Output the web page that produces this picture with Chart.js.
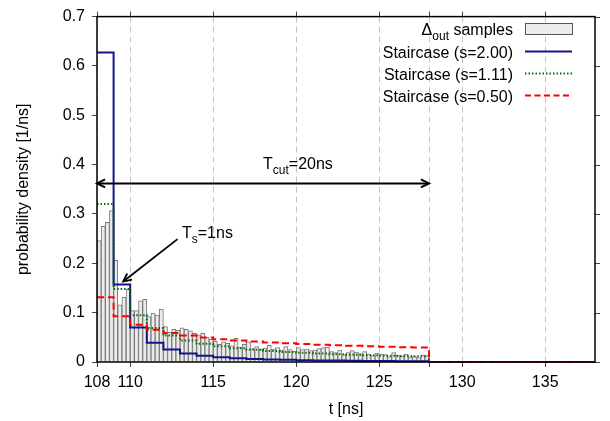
<!DOCTYPE html>
<html>
<head>
<meta charset="utf-8">
<script src="https://cdn.jsdelivr.net/npm/chart.js@4.4.0/dist/chart.umd.min.js"></script>
<style>
  html, body { margin: 0; padding: 0; background: #fff; }
</style>
</head>
<body>
<canvas id="chart" width="610" height="421"></canvas>
<script>
// axis ticks
const xTicks = [108, 110, 115, 120, 125, 128, 130, 135];
const xTickLabels = ['108', '110', '115', '120', '125', '', '130', '135'];
const yTicks = [0, 0.1, 0.2, 0.3, 0.4, 0.5, 0.6, 0.7];
const yTickLabels = ['0', '0.1', '0.2', '0.3', '0.4', '0.5', '0.6', '0.7'];

// histogram of Δout samples, 0.25 ns bins starting at 108 ns
const binStart = 108;
const binWidth = 0.25;
const samples = [
  0.246, 0.275, 0.283, 0.307,
  0.206, 0.116, 0.131, 0.148,
  0.104, 0.104, 0.124, 0.127,
  0.092, 0.099, 0.095, 0.107,
  0.072, 0.060, 0.066, 0.064,
  0.069, 0.066, 0.063, 0.058,
  0.055, 0.058, 0.050, 0.046,
  0.042, 0.036, 0.041, 0.038,
  0.033, 0.048, 0.030, 0.036,
  0.041, 0.027, 0.031, 0.026,
  0.028, 0.034, 0.026, 0.029,
  0.024, 0.031, 0.025, 0.022,
  0.029, 0.025, 0.026, 0.023,
  0.024, 0.027, 0.029, 0.030,
  0.021, 0.019, 0.024, 0.015,
  0.019, 0.023, 0.020, 0.017,
  0.021, 0.016, 0.013, 0.018,
  0.016, 0.015, 0.011, 0.019,
  0.014, 0.012, 0.016, 0.010,
  0.011, 0.009, 0.014, 0.013
];

// staircase densities, one value per 1 ns step, then 0 after T_cut
const stepTimes = [108, 109, 110, 111, 112, 113, 114, 115, 116, 117, 118, 119, 120, 121, 122, 123, 124, 125, 126, 127, 128, 138];
const stair200 = [0.627, 0.157, 0.0697, 0.0392, 0.0251, 0.0174, 0.0128, 0.0098, 0.0077, 0.0063, 0.0052, 0.0044, 0.0037, 0.0032, 0.0028, 0.0024, 0.0022, 0.0019, 0.0017, 0.0016, 0, 0];
const stair111 = [0.320, 0.148, 0.0945, 0.0687, 0.0536, 0.0438, 0.0369, 0.0318, 0.0279, 0.0248, 0.0223, 0.0203, 0.0186, 0.0171, 0.0158, 0.0148, 0.0138, 0.0129, 0.0122, 0.0115, 0, 0];
const stair050 = [0.131, 0.0926, 0.0756, 0.0655, 0.0586, 0.0535, 0.0495, 0.0463, 0.0437, 0.0414, 0.0395, 0.0378, 0.0363, 0.0350, 0.0338, 0.0328, 0.0318, 0.0309, 0.0301, 0.0293, 0, 0];

const FONT = "'Liberation Sans', Arial, Helvetica, sans-serif";
Chart.defaults.font.family = FONT;
Chart.defaults.font.size = 16;
Chart.defaults.color = '#000';

const BLUE = '#14148a';
const GREEN = '#0b6b0b';
const RED = '#ff0000';

function toPts(xs, ys) {
  return xs.map((x, i) => ({ x: x, y: ys[i] }));
}

// text with a subscript part: [main, sub, rest]
function drawSubText(ctx, parts, x, y, align) {
  const big = '16px ' + FONT;
  const small = '12px ' + FONT;
  ctx.font = big;
  const w0 = ctx.measureText(parts[0]).width;
  const w2 = ctx.measureText(parts[2]).width;
  ctx.font = small;
  const w1 = ctx.measureText(parts[1]).width;
  let sx = align === 'right' ? x - (w0 + w1 + w2) : x;
  ctx.textAlign = 'left';
  ctx.textBaseline = 'alphabetic';
  ctx.font = big;
  ctx.fillText(parts[0], sx, y);
  ctx.font = small;
  ctx.fillText(parts[1], sx + w0, y + 5);
  ctx.font = big;
  ctx.fillText(parts[2], sx + w0 + w1, y);
}

function arrowHead(ctx, x1, y1, x2, y2) {
  const a = Math.atan2(y2 - y1, x2 - x1);
  const len = 9, spread = 0.45;
  ctx.beginPath();
  ctx.moveTo(x2 - len * Math.cos(a - spread), y2 - len * Math.sin(a - spread));
  ctx.lineTo(x2, y2);
  ctx.lineTo(x2 - len * Math.cos(a + spread), y2 - len * Math.sin(a + spread));
  ctx.stroke();
}

const framePlugin = {
  id: 'frame',
  afterDatasetsDraw(chart) {
    const { ctx, chartArea: a, scales } = chart;
    ctx.save();
    // mirrored ticks on top and right
    ctx.strokeStyle = '#444';
    ctx.lineWidth = 1;
    ctx.beginPath();
    xTicks.forEach(v => {
      const px = Math.round(scales.x.getPixelForValue(v)) + 0.5;
      ctx.moveTo(px, a.top);
      ctx.lineTo(px, a.top - 5);
    });
    yTicks.forEach(v => {
      const py = Math.round(scales.y.getPixelForValue(v)) + 0.5;
      ctx.moveTo(a.right, py);
      ctx.lineTo(a.right + 5, py);
    });
    ctx.stroke();
    ctx.strokeStyle = '#000';
    ctx.lineWidth = 1.5;
    ctx.strokeRect(a.left, a.top, a.right - a.left, a.bottom - a.top);
    ctx.restore();
  }
};

const annotationPlugin = {
  id: 'notes',
  afterDraw(chart) {
    const { ctx, scales } = chart;
    const X = v => scales.x.getPixelForValue(v);
    const Y = v => scales.y.getPixelForValue(v);
    ctx.save();
    ctx.fillStyle = '#000';
    ctx.strokeStyle = '#000';
    ctx.lineWidth = 2;
    // T_cut double arrow
    const ya = Y(0.362);
    ctx.beginPath();
    ctx.moveTo(X(108), ya);
    ctx.lineTo(X(128), ya);
    ctx.stroke();
    arrowHead(ctx, X(128), ya, X(108), ya);
    arrowHead(ctx, X(108), ya, X(128), ya);
    drawSubText(ctx, ['T', 'cut', '=20ns'], X(118), Y(0.391), 'left');
    // T_s arrow
    ctx.lineWidth = 1.8;
    ctx.beginPath();
    ctx.moveTo(X(112.85), Y(0.249));
    ctx.lineTo(X(109.58), Y(0.163));
    ctx.stroke();
    arrowHead(ctx, X(112.85), Y(0.249), X(109.58), Y(0.163));
    drawSubText(ctx, ['T', 's', '=1ns'], X(113.12), Y(0.251), 'left');
    ctx.restore();
  }
};

const legendPlugin = {
  id: 'keybox',
  afterDraw(chart) {
    const { ctx } = chart;
    const tx = 513, s0 = 525, s1 = 572;
    const rows = [29, 51.5, 73.5, 95.5];
    ctx.save();
    drawSubText(ctx, ['Δ', 'out', ' samples'], tx, rows[0] + 6, 'right');
    ctx.fillStyle = '#ececec';
    ctx.fillRect(s0, rows[0] - 5.5, s1 - s0, 11);
    ctx.strokeStyle = '#555';
    ctx.lineWidth = 1;
    ctx.strokeRect(s0 + 0.5, rows[0] - 5.5, s1 - s0, 11);
    const lines = [
      ['Staircase (s=2.00)', BLUE, []],
      ['Staircase (s=1.11)', GREEN, [1.5, 2]],
      ['Staircase (s=0.50)', RED, [6, 3.5]]
    ];
    ctx.font = '16px ' + FONT;
    ctx.textAlign = 'right';
    ctx.textBaseline = 'alphabetic';
    lines.forEach((l, i) => {
      const y = rows[i + 1];
      ctx.fillStyle = '#000';
      ctx.fillText(l[0], tx, y + 6);
      ctx.strokeStyle = l[1];
      ctx.lineWidth = 2;
      ctx.setLineDash(l[2]);
      ctx.beginPath();
      ctx.moveTo(s0, y);
      ctx.lineTo(s1, y);
      ctx.stroke();
    });
    ctx.restore();
  }
};

new Chart(document.getElementById('chart').getContext('2d'), {
  type: 'bar',
  data: {
    datasets: [
      {
        label: 'Δout samples',
        data: samples.map((v, i) => ({ x: binStart + binWidth * (i + 0.5), y: v })),
        backgroundColor: '#ebebeb',
        borderColor: '#7a7a7a',
        borderWidth: 1,
        barPercentage: 1,
        categoryPercentage: 1,
        order: 4
      },
      {
        type: 'line',
        label: 'Staircase (s=2.00)',
        data: toPts(stepTimes, stair200),
        borderColor: BLUE,
        borderWidth: 2,
        stepped: 'before',
        pointRadius: 0,
        fill: false,
        clip: false,
        order: 3
      },
      {
        type: 'line',
        label: 'Staircase (s=1.11)',
        data: toPts(stepTimes, stair111),
        borderColor: GREEN,
        borderWidth: 2,
        borderDash: [1.5, 2],
        stepped: 'before',
        pointRadius: 0,
        fill: false,
        clip: false,
        order: 2
      },
      {
        type: 'line',
        label: 'Staircase (s=0.50)',
        data: toPts(stepTimes, stair050),
        borderColor: RED,
        borderWidth: 2,
        borderDash: [7, 4],
        stepped: 'before',
        pointRadius: 0,
        fill: false,
        clip: false,
        order: 1
      }
    ]
  },
  options: {
    responsive: false,
    animation: false,
    devicePixelRatio: 1,
    layout: { padding: { left: 0, right: 15, top: 13, bottom: 0 } },
    plugins: { legend: { display: false }, tooltip: { enabled: false } },
    scales: {
      x: {
        type: 'linear',
        min: 108,
        max: 138,
        offset: false,
        afterBuildTicks: s => { s.ticks = xTicks.map(v => ({ value: v })); },
        ticks: { autoSkip: false, maxRotation: 0, padding: 6, callback: (v, i) => xTickLabels[i] },
        grid: { offset: false, color: '#c4c4c4', lineWidth: 1, tickLength: 5, tickColor: '#444', tickBorderDash: [] },
        border: { display: false, dash: [6, 4] },
        title: { display: true, text: 't [ns]', padding: { top: 0, bottom: 2 } },
        afterFit: s => { s.height = 59; }
      },
      y: {
        min: 0,
        max: 0.7,
        afterBuildTicks: s => { s.ticks = yTicks.map(v => ({ value: v })); },
        ticks: { padding: 7, callback: (v, i) => yTickLabels[i] },
        grid: { drawOnChartArea: false, tickLength: 5, tickColor: '#444' },
        border: { display: false },
        title: { display: true, text: 'probability density [1/ns]', padding: { top: 14, bottom: 0 } },
        afterFit: s => { s.width = 97; }
      }
    }
  },
  plugins: [framePlugin, annotationPlugin, legendPlugin]
});
</script>
</body>
</html>
